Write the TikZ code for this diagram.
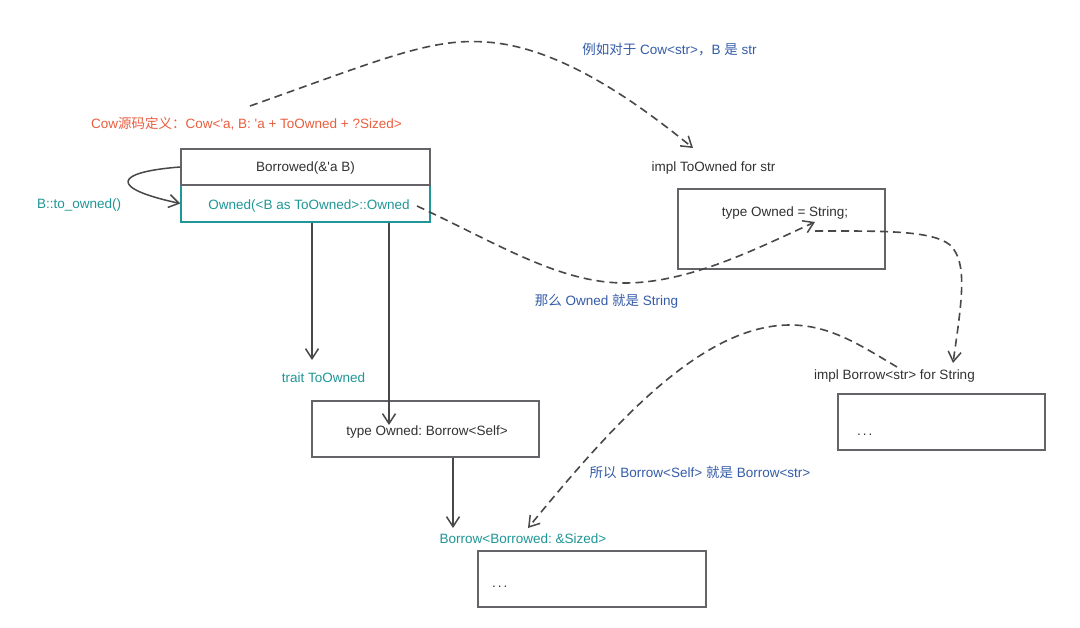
\documentclass[tikz,border=0pt]{standalone}
\usepackage{fontspec}
\setmainfont{Liberation Sans}
\newfontfamily\cjk{Noto Sans CJK SC}
\usetikzlibrary{arrows.meta}
\definecolor{tealc}{RGB}{32,150,150}
\definecolor{redc}{RGB}{234,94,62}
\definecolor{bluec}{RGB}{52,92,168}
\definecolor{linegray}{RGB}{72,72,75}
\definecolor{boxgray}{RGB}{100,100,104}
\definecolor{textgray}{RGB}{50,50,52}
\newcommand{\zh}[1]{{\cjk #1}}
\frenchspacing
\begin{document}
\begin{tikzpicture}[x=1pt,y=-1pt,
  font=\fontsize{13.5}{16}\selectfont\frenchspacing,
  every node/.style={inner sep=0pt, text=textgray},
  txt/.style={yshift=-1.5pt},
  box/.style={draw=boxgray, line width=1.5pt, rectangle},
  tealtext/.style={txt, text=tealc},
  bluetext/.style={txt, text=bluec},
  conn/.style={draw=linegray, line width=1.5pt, -{Straight Barb[length=10pt,width=13pt,line width=1.5pt]}},
  dconn/.style={conn, line width=1.6pt, dash pattern=on 8pt off 5pt}]
\useasboundingbox[fill=white] (0,0) rectangle (1080,628);

% left column
\node[txt, text=redc, anchor=west] (cowdef) at (91,122) {Cow\zh{源码定义：}Cow<\textquotesingle a, B: \textquotesingle a + ToOwned + ?Sized>};
\node[box, draw=tealc, minimum width=249pt, minimum height=37pt] (owned) at (305.5,203.5) {};
\node[box, minimum width=249pt, minimum height=36pt] (borrowed) at (305.5,167) {};
\node[txt] (borrowedtxt) at (305.5,167) {Borrowed(\&\textquotesingle a B)};
\node[tealtext, yshift=-1.5pt] (ownedtxt) at (309,203.5) {Owned(<B as ToOwned>::Owned};
\node[tealtext, anchor=west] (toowned) at (37,204) {B::to\_owned()};
\node[tealtext] (traitlbl) at (323.5,376) {trait ToOwned};
\node[box, minimum width=227pt, minimum height=56pt] (typebox) at (425.5,429) {};
\node[txt] (typetxt) at (427,431) {type Owned: Borrow<Self>};
\node[tealtext] (borrowlbl) at (523,537) {Borrow<Borrowed: \&Sized>};
\node[box, minimum width=228pt, minimum height=56pt] (dotsbox1) at (592,579) {};
\node[anchor=west] (dots1) at (492,587) {.\kern2pt.\kern2pt.};

% right column
\node[txt] (impltoowned) at (713.5,167) {impl ToOwned for str};
\node[box, minimum width=207pt, minimum height=80pt] (strbox) at (781.5,229) {};
\node[txt] (ownedstr) at (785,212) {type Owned = String;};
\node[txt] (implborrow) at (894.5,375) {impl Borrow<str> for String};
\node[box, minimum width=207pt, minimum height=56pt] (dotsbox2) at (941.5,422) {};
\node[anchor=west] (dots2) at (857,435) {.\kern2pt.\kern2pt.};

% blue notes
\node[bluetext] (note1) at (669.5,48) {\zh{例如对于} Cow<str>\zh{，}B \zh{是} str};
\node[bluetext] (note2) at (606.5,300) {\zh{那么} Owned \zh{就是} String};
\node[bluetext] (note3) at (700,471) {\zh{所以} Borrow<Self> \zh{就是} Borrow<str>};

% solid connectors
\draw[conn] (borrowed.west) .. controls (114,172) and (108,188) .. (owned.west);
\coordinate (t1) at (312,360);
\coordinate (t2) at (389,425);
\coordinate (t3) at (453,528);
\draw[conn] (owned.south -| t1) -- (t1);
\draw[conn] (owned.south -| t2) -- (t2);
\draw[conn] (typebox.south -| t3) -- (t3);

% dashed connectors
\coordinate (c1s) at (250,106);
\coordinate (c1e) at (693,148);
\draw[dconn] (c1s) .. controls (380,60) and (430,38) .. (485,42) .. controls (560,46) and (640,105) .. (c1e);
\coordinate (c2s) at (417,206);
\coordinate (c2e) at (815,222);
\draw[dconn] (c2s) .. controls (500,245) and (560,283) .. (625,283) .. controls (690,283) and (760,247) .. (c2e);
\coordinate (c3s) at (815,231);
\coordinate (c3e) at (953,363);
\draw[dconn] (c3s) .. controls (880,231) and (932,230) .. (950,245) .. controls (968,262) and (962,300) .. (c3e);
\coordinate (c4s) at (897,367);
\coordinate (c4e) at (528,528);
\draw[dconn] (c4s) .. controls (860,345) and (830,325) .. (790,325) .. controls (700,325) and (610,428) .. (c4e);
\end{tikzpicture}
\end{document}
